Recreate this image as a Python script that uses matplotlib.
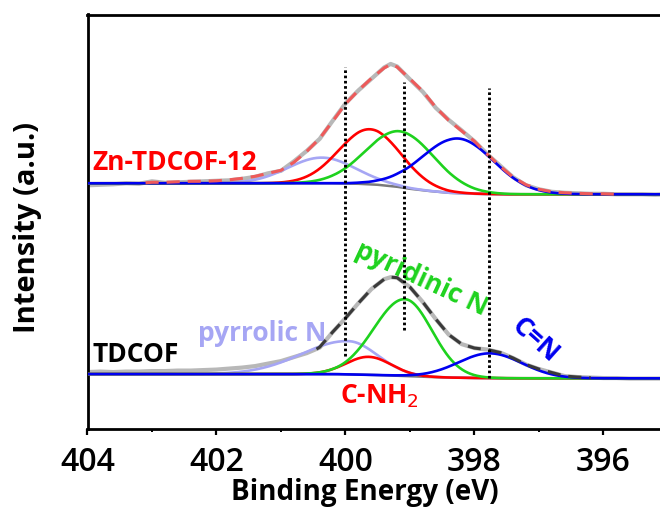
import numpy as np
import matplotlib
matplotlib.use("Agg")
import matplotlib.pyplot as plt

plt.rcParams['font.family'] = ['Open Sans', 'DejaVu Sans']

# ---- measured N 1s spectra (binding energy in eV, intensity in a.u.) ----
raw_be = [404.0, 403.8, 403.6, 403.4, 403.2, 403.0, 402.8, 402.6, 402.4, 402.2,
          402.0, 401.8, 401.6, 401.4, 401.2, 401.0, 400.8, 400.6, 400.4, 400.2,
          400.0, 399.8, 399.6, 399.4, 399.3, 399.2, 399.0, 398.8, 398.6, 398.4,
          398.2, 398.0, 397.8, 397.6, 397.4, 397.2, 397.0, 396.8, 396.6, 396.4,
          396.2, 396.0, 395.8, 395.6, 395.4, 395.2, 395.0]
raw_zn = [244, 244.5, 245, 246, 245.5, 248, 246.5, 247, 247.5, 248,
          248.5, 249, 250.5, 252.5, 256, 258.5, 268, 278.5, 290.5, 308.5,
          326, 339, 350.5, 362, 365.5, 363, 350, 337.5, 321.5, 309.5,
          299, 288, 275, 263.5, 252, 244, 240, 237.5, 236.5, 236,
          235.5, 235.5, 235, 235, 235, 234.5, 235]
raw_td = [57, 57.5, 57, 57.5, 57.5, 58, 58, 58.5, 58.5, 59,
          59.5, 60.5, 61.5, 63, 65.5, 68, 72, 76, 81.5, 97,
          111, 126, 140, 150, 152, 151.5, 142, 127, 110, 94.5,
          85, 81, 79.5, 76.5, 71, 64.5, 60, 56.5, 53, 52,
          51.5, 51, 51, 50.5, 50.5, 50.5, 50.5]

# ---- fitted envelopes ----
env_zn_be = [403.1, 403.0, 402.8, 402.6, 402.4, 402.2, 402.0, 401.8, 401.6, 401.4,
             401.2, 401.0, 400.8, 400.6, 400.4, 400.2, 400.0, 399.8, 399.6, 399.4,
             399.3, 399.2, 399.0, 398.8, 398.6, 398.4, 398.2, 398.0, 397.8, 397.6,
             397.4, 397.2, 397.0, 396.8, 396.6, 396.4, 396.2, 396.0, 395.8]
env_zn = [246.5, 247, 247, 247.5, 248, 248, 248.5, 249.5, 251, 253,
          256, 259, 267, 278, 291, 308, 325.5, 339, 351, 361.5,
          365, 362.5, 350.5, 338, 322, 309, 298.5, 288, 275, 263,
          252, 244.5, 240, 237.5, 236.5, 236, 235.5, 235.5, 235]
env_td_be = [400.45, 400.4, 400.2, 400.0, 399.8, 399.6, 399.4, 399.3, 399.2, 399.0,
             398.8, 398.6, 398.4, 398.2, 398.0, 397.8, 397.6, 397.4, 397.2, 397.0,
             396.8, 396.6, 396.4, 396.2]
env_td = [80, 82, 97, 111, 126, 140, 150, 152, 151.5, 142,
          127, 110, 94.5, 85, 81, 79.5, 76.5, 71, 64.5, 60,
          56.5, 53, 52, 51.5]

# ---- Shirley-type backgrounds ----
bg_be = [404.2, 400.2, 399.8, 399.5, 399.2, 399.0, 398.7, 398.4, 398.0, 397.5, 394.8]
bg_zn = [246, 246, 245.5, 244.5, 242.5, 240.5, 238.3, 236.5, 235.5, 235, 235]
bg_td = [55, 55, 54.5, 54.0, 53.3, 52.8, 52.1, 51.5, 51.1, 50.8, 50.7]

# ---- fitted components: pyrrolic N, C-NH2, pyridinic N, C=N ----
comp_colors = ['#a6a6f4', '#ff0000', '#1ed21e', '#0000f0']
zn_center = [400.37, 399.62, 399.15, 398.26]
zn_height = [25.7, 55.2, 56.0, 54.7]
zn_sig_hi = [0.52, 0.48, 0.53, 0.555]
zn_sig_lo = [0.52, 0.48, 0.53, 0.555]
td_center = [399.96, 399.64, 399.08, 397.76]
td_height = [33.3, 18.0, 77.0, 24.8]
td_sig_hi = [0.72, 0.35, 0.48, 0.5]
td_sig_lo = [0.45, 0.35, 0.42, 0.5]

# reference positions of the nitrogen species
mark_be = [400.0, 399.1, 397.78]
mark_top = [362, 347, 341]
mark_bot = [73, 99, 51]

xticks = [404, 402, 400, 398, 396]

fig = plt.figure(figsize=(6.6, 5.12), dpi=100)
ax = fig.add_axes([87.5 / 660, 83 / 512, 1 - 87.5 / 660, 414.5 / 512])

grid = np.linspace(404.2, 394.8, 900)


def component(c, h, s_hi, s_lo, be_bg, i_bg):
    s = np.where(grid >= c, s_hi, s_lo)
    return np.interp(grid, be_bg[::-1], i_bg[::-1]) + h * np.exp(-(grid - c) ** 2 / (2 * s ** 2))


for raw, bg, cen, hgt, shi, slo, env_be, env, ecol in [
        (raw_zn, bg_zn, zn_center, zn_height, zn_sig_hi, zn_sig_lo, env_zn_be, env_zn, '#ee5a5a'),
        (raw_td, bg_td, td_center, td_height, td_sig_hi, td_sig_lo, env_td_be, env_td, '#3a3a3a')]:
    ax.plot(raw_be, raw, color='#b8b8b8', lw=3.0, zorder=2, solid_joinstyle='round')
    ax.plot(bg_be, bg, color='#7a7a7a', lw=1.8, zorder=3)
    for k in range(4):
        ax.plot(grid, component(cen[k], hgt[k], shi[k], slo[k], bg_be, bg),
                color=comp_colors[k], lw=1.9, zorder=4 + k)
    ax.plot(env_be, env, color=ecol, lw=2.2, zorder=9, linestyle=(0, (4.3, 2.6)))

for e, t, b in zip(mark_be, mark_top, mark_bot):
    ax.plot([e, e], [b, t], color='black', lw=2.1, linestyle=(0, (0.9, 0.9)), zorder=10)

fs = 19
fw = 'bold'
ax.text(403.93, 259, 'Zn-TDCOF-12', color='#ff0000', fontsize=fs, fontweight=fw, ha='left', va='baseline')
ax.text(403.93, 67.3, 'TDCOF', color='black', fontsize=fs, fontweight=fw, ha='left', va='baseline')
ax.text(402.29, 88.3, 'pyrrolic N', color='#a6a6f4', fontsize=fs, fontweight=fw, ha='left', va='baseline')
ax.text(400.09, 25.7, 'C-NH$_2$', color='#ff0000', fontsize=fs, fontweight=fw, ha='left', va='baseline')
ax.text(398.83, 150, 'pyridinic N', color='#1ed21e', fontsize=fs, fontweight=fw,
        ha='center', va='center', rotation=-25, rotation_mode='anchor')
ax.text(397.05, 89, 'C=N', color='#0000f0', fontsize=fs, fontweight=fw,
        ha='center', va='center', rotation=-42, rotation_mode='anchor')

ax.set_xlim(404, 404 - (660 - 87.5) / 64.5)
ax.set_ylim(0, 415)
ax.set_xticks(xticks)
ax.set_xticks([403, 401, 399, 397], minor=True)
ax.set_yticks([])
ax.tick_params(axis='x', which='major', direction='out', length=4.5, width=1.6, labelsize=23, pad=8)
ax.tick_params(axis='x', which='minor', direction='out', length=2.5, width=1.4)
for lbl in ax.get_xticklabels():
    lbl.set_fontweight('semibold')
for side in ['left', 'top', 'bottom']:
    ax.spines[side].set_linewidth(2.0)
ax.spines['right'].set_visible(False)

ax.set_xlabel('Binding Energy (eV)', fontsize=20, fontweight='bold')
ax.xaxis.set_label_coords(0.484, -0.118)
ax.set_ylabel('Intensity (a.u.)', fontsize=21, fontweight='bold')
ax.yaxis.set_label_coords(-0.079, 0.486)

fig.savefig('out.png', dpi=100)
